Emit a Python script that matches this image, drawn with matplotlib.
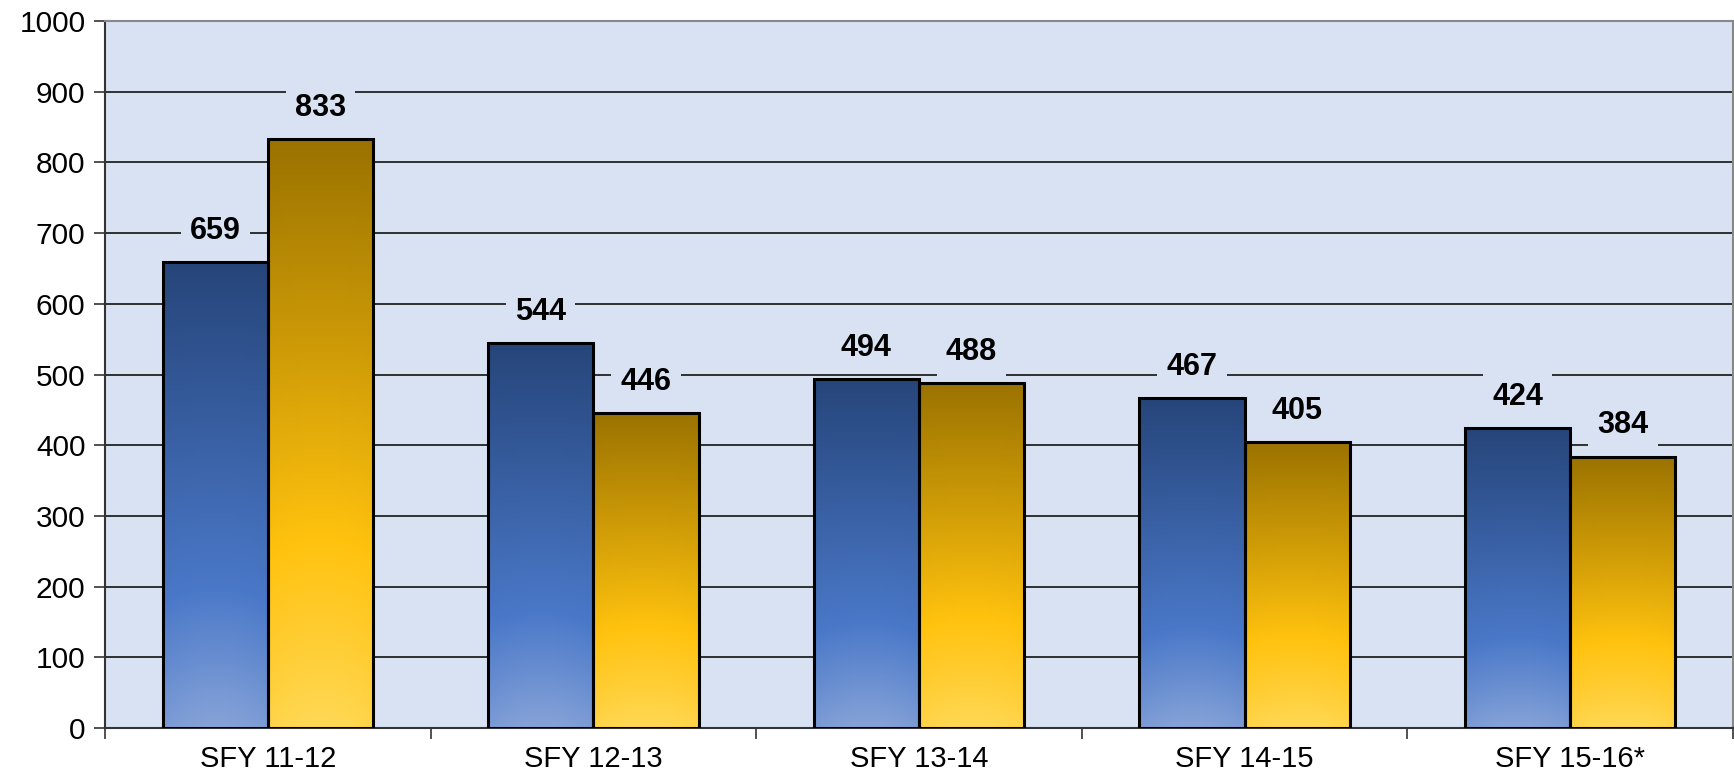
import numpy as np
import matplotlib
matplotlib.use("Agg")
import matplotlib.pyplot as plt
from matplotlib.colors import LinearSegmentedColormap
from matplotlib.patches import Rectangle

categories = ["SFY 11-12", "SFY 12-13", "SFY 13-14", "SFY 14-15", "SFY 15-16*"]
series_blue = [659, 544, 494, 467, 424]
series_gold = [833, 446, 488, 405, 384]
y_ticks = [0, 100, 200, 300, 400, 500, 600, 700, 800, 900, 1000]

plt.rcParams['font.family'] = ['Liberation Sans', 'DejaVu Sans']
BG = "#D9E2F3"

fig = plt.figure(figsize=(17.34, 7.81), dpi=100)
ax = fig.add_axes([105/1734, 1-728/781, 1628/1734, 707/781])
ax.set_facecolor(BG)
ax.set_xlim(0, 5)
ax.set_ylim(0, 1000)

blue_cmap = LinearSegmentedColormap.from_list("b", [(0, "#86A3D8"), (0.3, "#4A78C8"), (1, "#26457A")])
gold_cmap = LinearSegmentedColormap.from_list("g", [(0, "#FFD855"), (0.32, "#FFC20E"), (1, "#9A7200")])

bw = 0.323
grad = np.linspace(0, 1, 256).reshape(-1, 1)
xs = np.linspace(-1, 1, 64).reshape(1, -1)

def draw_bar(x0, h, cmap):
    rect = Rectangle((x0, 0), bw, h, facecolor="none", edgecolor="black", lw=2.2, zorder=4)
    ax.add_patch(rect)
    clip = Rectangle((x0, 0), bw, h, transform=ax.transData)
    vals = grad * np.ones_like(xs) + 0.06 * (xs**2) * (1 - grad) ** 2
    im = ax.imshow(vals, cmap=cmap, vmin=0, vmax=1, origin="lower", aspect="auto",
                   extent=[x0, x0 + bw, 0, h], zorder=3, interpolation="bilinear")
    im.set_clip_path(clip)

for i, (b, g) in enumerate(zip(series_blue, series_gold)):
    xb = i + 0.5 - bw
    xg = i + 0.5
    draw_bar(xb, b, blue_cmap)
    draw_bar(xg, g, gold_cmap)
    for xx, v in ((xb, b), (xg, g)):
        ax.text(xx + bw / 2, v + 44, str(v), ha="center", va="center", fontsize=22,
                fontweight="bold", zorder=5,
                bbox=dict(boxstyle="square,pad=0.3", facecolor=BG, edgecolor="none"))

ax.set_xlim(0, 5)
ax.set_ylim(0, 1000)
ax.set_yticks(y_ticks)
ax.set_yticklabels([str(t) for t in y_ticks], fontsize=21.5)
ax.yaxis.grid(True, color="#222222", lw=1.3)
ax.set_axisbelow(True)
ax.set_xticks(np.arange(0, 6))
ax.set_xticklabels([])
ax.set_xticks(np.arange(5) + 0.5, minor=True)
ax.set_xticklabels(categories, minor=True, fontsize=21)
ax.tick_params(axis="x", which="minor", length=0, pad=12)
ax.tick_params(axis="x", which="major", length=8, width=1.2, color="#333333")
ax.tick_params(axis="y", length=8, width=1.2, color="#333333", pad=6)
for s in ("left", "bottom"):
    ax.spines[s].set_color("#333333")
    ax.spines[s].set_linewidth(1.5)
for s in ("top", "right"):
    ax.spines[s].set_color("#888888")
    ax.spines[s].set_linewidth(1.5)

fig.savefig("out.png", dpi=100, facecolor="white")
